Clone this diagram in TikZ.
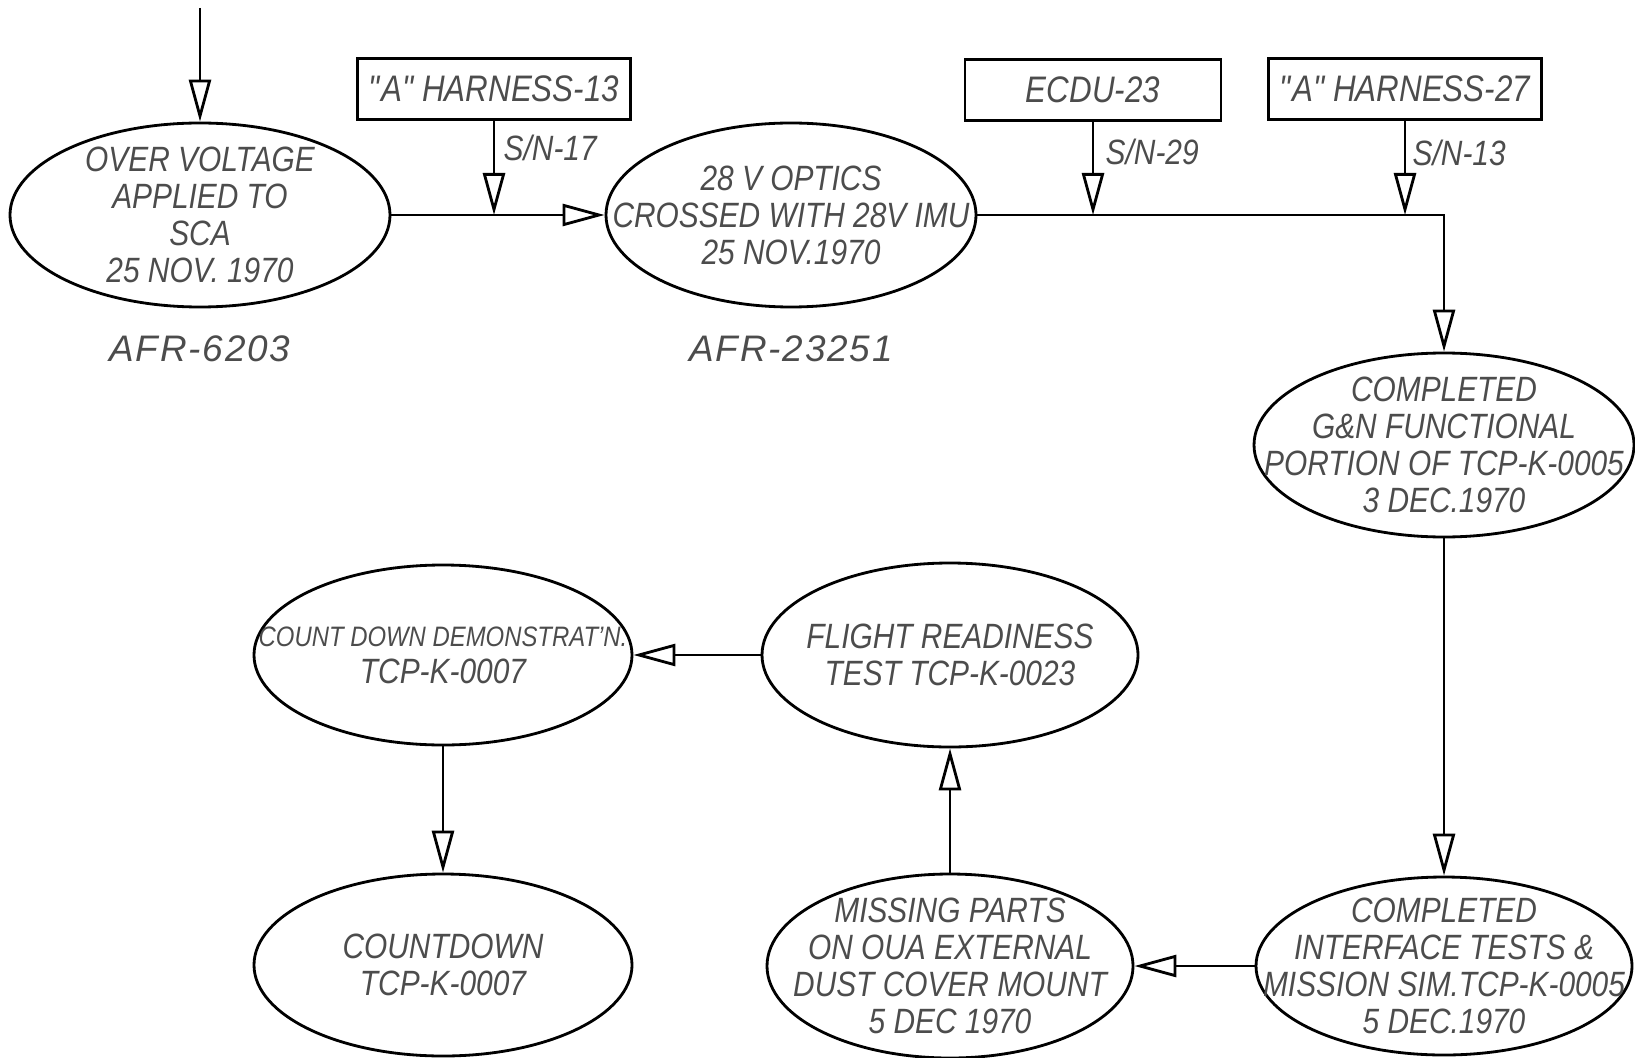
\documentclass[tikz,border=0pt]{standalone}
\usepackage{fontspec}
\setmainfont{Liberation Sans}[FakeStretch=0.85]
\newfontfamily\tagfont{Liberation Sans}[LetterSpace=5]
\usetikzlibrary{shapes,arrows.meta,positioning}

\begin{document}
\begin{tikzpicture}[
    >={Triangle[open,length=4.2mm,width=2.2mm]},
    event/.style={draw, ellipse, line width=0.8pt, minimum width=3.76cm, minimum height=1.84cm, inner xsep=-0.8cm, inner ysep=-0.3cm, align=center, text=black!70, font=\fontsize{10}{10.5}\selectfont\itshape},
    partbox/.style={draw, rectangle, line width=0.8pt, minimum width=2.56cm, minimum height=0.61cm, text=black!70, font=\fontsize{10.5}{12}\selectfont\itshape},
    afr/.style={text=black!70, font=\tagfont\fontsize{10.5}{12}\selectfont\itshape},
    serial/.style={anchor=west, inner sep=0pt, text=black!70, font=\fontsize{10}{12}\selectfont\itshape},
    flow/.style={->, line width=0.8pt}
]
    \useasboundingbox (0,0) rectangle (16.35,-10.57);

    % Over voltage
    \coordinate (entry) at (2.00,-0.08);
    \node[event, minimum width=3.80cm] (volt) at (2.00,-2.15) {OVER VOLTAGE\\APPLIED TO\\SCA\\25 NOV. 1970};
    \draw[flow] (entry) -- (volt);
    \node[afr, below=0.15cm of volt] (afr1) {AFR-6203};

    % 28 V optics
    \node[event, minimum width=3.70cm] (optics) at (7.91,-2.15) {28 V OPTICS\\CROSSED WITH 28V IMU\\25 NOV.1970};
    \draw[flow] (volt) -- (optics);
    \node[afr, below=0.15cm of optics] (afr2) {AFR-23251};

    % Harness 13
    \node[partbox, minimum width=2.58cm] (har13) at (4.94,-0.89) {\textquotedbl A\textquotedbl\,HARNESS-13};
    \coordinate (j1) at (har13.south |- volt.east);
    \draw[flow] (har13) -- (j1);
    \node[serial] at (5.03,-1.48) {S/N-17};

    % ECDU
    \node[partbox] (ecdu) at (10.93,-0.90) {ECDU-23};
    \coordinate (j2) at (ecdu.south |- optics.east);
    \draw[flow] (ecdu) -- (j2);
    \node[serial] at (11.05,-1.52) {S/N-29};

    % Harness 27
    \node[partbox, minimum width=2.55cm] (har27) at (14.05,-0.89) {\textquotedbl A\textquotedbl\,HARNESS-27};
    \coordinate (j3) at (har27.south |- optics.east);
    \draw[flow] (har27) -- (j3);
    \node[serial] at (14.12,-1.53) {S/N-13};

    % G&N functional
    \node[event, minimum width=3.80cm] (gn) at (14.44,-4.45) {COMPLETED\\G\&N FUNCTIONAL\\PORTION OF TCP-K-0005\\3 DEC.1970};
    \coordinate (turn) at (gn.north |- optics.east);
    \draw[flow] (optics) -- (turn) -- (gn);

    % Interface tests
    \node[event, minimum height=1.78cm] (iface) at (14.44,-9.66) {COMPLETED\\INTERFACE TESTS \&\\MISSION SIM.TCP-K-0005\\5 DEC.1970};
    \draw[flow] (gn) -- (iface);

    % Missing parts
    \node[event, minimum width=3.66cm] (missing) at (9.50,-9.66) {MISSING PARTS\\ON OUA EXTERNAL\\DUST COVER MOUNT\\5 DEC 1970};
    \draw[flow] (iface) -- (missing);

    % Flight readiness
    \node[event] (flight) at (9.50,-6.55) {FLIGHT READINESS\\TEST TCP-K-0023};
    \draw[flow] (missing) -- (flight);

    % Count down demonstration
    \node[event, minimum width=3.78cm, minimum height=1.80cm] (demo) at (4.43,-6.55) {{\fontsize{8}{9}\selectfont COUNT DOWN DEMONSTRAT'N.}\\TCP-K-0007};
    \draw[flow] (flight) -- (demo);

    % Countdown
    \node[event, minimum width=3.78cm, minimum height=1.82cm] (count) at (4.43,-9.65) {COUNTDOWN\\TCP-K-0007};
    \draw[flow] (demo) -- (count);
\end{tikzpicture}
\end{document}
